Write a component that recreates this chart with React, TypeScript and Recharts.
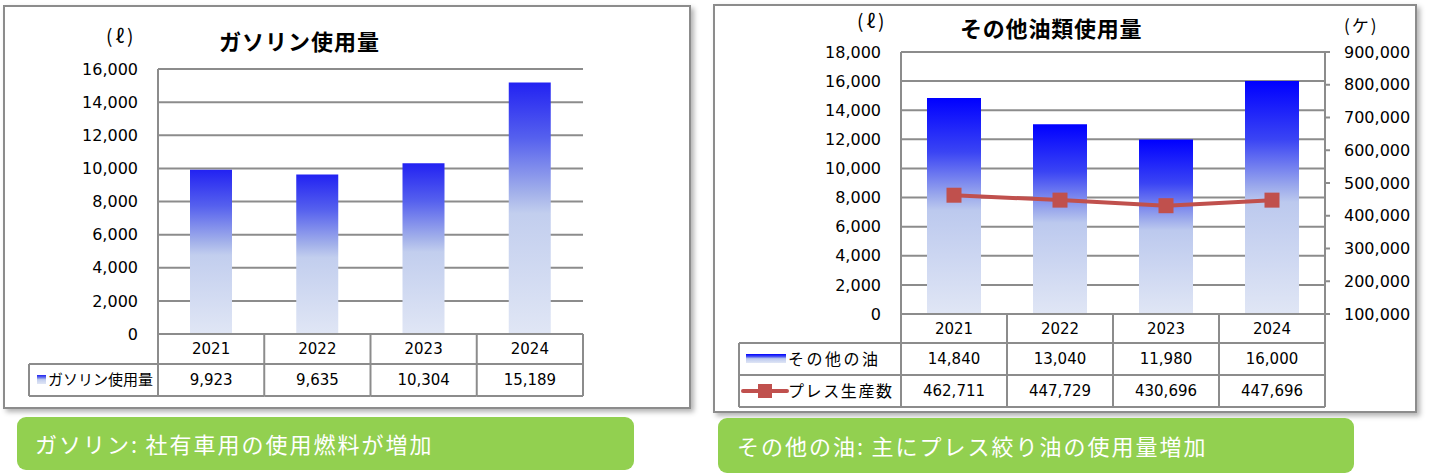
import { ComposedChart, Bar, Line, XAxis, YAxis, CartesianGrid } from "recharts";

const years = ["2021", "2022", "2023", "2024"];
const gasoline = [9923, 9635, 10304, 15189];
const otherOil = [14840, 13040, 11980, 16000];
const pressCount = [462711, 447729, 430696, 447696];
const gasTicks = [0, 2000, 4000, 6000, 8000, 10000, 12000, 14000, 16000];
const oilTicks = [0, 2000, 4000, 6000, 8000, 10000, 12000, 14000, 16000, 18000];
const pressTicks = [100000, 200000, 300000, 400000, 500000, 600000, 700000, 800000, 900000];

const LINE = "#8c8c8c";
const RED = "#c0504d";
const FONT = "'DejaVu Sans', 'Noto Sans CJK JP', sans-serif";
const JP = "'Noto Sans CJK JP', sans-serif";

const fmt = (v: number) => v.toLocaleString("en-US");

type Row = { label: string; values: number[]; icon: string; size: number; spacing: number };

// x axis tick draws one column of the data table under the plot
function makeTableTick(bw: number, heights: number[], rows: Row[], legendLeft: number, labelX: number) {
  return function TableTick(props: any) {
    const { x, y, payload, index } = props;
    const left = x - bw / 2;
    const right = x + bw / 2;
    const total = heights.reduce((a, b) => a + b, 0);
    let top = y;
    const cells: any[] = [];
    cells.push(
      <text key="h" x={x} y={y + heights[0] / 2} dy="0.36em" textAnchor="middle" fontSize={15} fontFamily={FONT} fill="#000">
        {payload.value}
      </text>
    );
    top = y + heights[0];
    rows.forEach((r, ri) => {
      const h = heights[ri + 1];
      cells.push(<line key={"l" + ri} x1={index === 0 ? legendLeft : left} x2={right} y1={top} y2={top} stroke={LINE} strokeWidth={2} />);
      cells.push(
        <text key={"t" + ri} x={x} y={top + h / 2} dy="0.36em" textAnchor="middle" fontSize={15} fontFamily={FONT} fill="#000">
          {fmt(r.values[index])}
        </text>
      );
      if (index === 0) {
        const cy = top + h / 2;
        if (r.icon === "gas") {
          cells.push(<rect key={"i" + ri} x={legendLeft + 8} y={cy - 5} width={9} height={9} fill="url(#gasGrad)" />);
        } else if (r.icon === "bar") {
          cells.push(<rect key={"i" + ri} x={legendLeft + 7} y={cy - 5} width={40} height={9} fill="url(#oilGrad)" />);
        } else {
          cells.push(<line key={"i" + ri} x1={legendLeft + 4} x2={legendLeft + 48} y1={cy} y2={cy} stroke={RED} strokeWidth={4} strokeLinecap="round" />);
          cells.push(<rect key={"m" + ri} x={legendLeft + 19} y={cy - 7} width={14} height={14} fill={RED} />);
        }
        cells.push(
          <text key={"n" + ri} x={labelX} y={cy} dy="0.36em" fontSize={r.size} letterSpacing={r.spacing} fontFamily={JP} fill="#000">
            {r.label}
          </text>
        );
      }
      top += h;
    });
    const bottom = y + total;
    cells.push(<line key="b" x1={index === 0 ? legendLeft : left} x2={right} y1={bottom} y2={bottom} stroke={LINE} strokeWidth={2} />);
    cells.push(<line key="v" x1={left} x2={left} y1={y} y2={bottom} stroke={LINE} strokeWidth={2} />);
    if (index === years.length - 1) {
      cells.push(<line key="vr" x1={right} x2={right} y1={y} y2={bottom} stroke={LINE} strokeWidth={2} />);
    }
    if (index === 0) {
      cells.push(<line key="vl" x1={legendLeft} x2={legendLeft} y1={y + heights[0]} y2={bottom} stroke={LINE} strokeWidth={2} />);
    }
    return <g>{cells}</g>;
  };
}

const SquareDot = (props: any) => {
  const { cx, cy } = props;
  return <rect x={cx - 7.5} y={cy - 7.5} width={15} height={15} fill={RED} />;
};

const gasData = years.map((y, i) => ({ year: y, gas: gasoline[i] }));
const oilData = years.map((y, i) => ({ year: y, oil: otherOil[i], press: pressCount[i] }));

const gasTick = makeTableTick(106.25, [30, 32], [{ label: "ガソリン使用量", values: gasoline, icon: "gas", size: 15, spacing: 0 }], 29, 48);
const oilTick = makeTableTick(106, [29, 32, 32], [
  { label: "その他の油", values: otherOil, icon: "bar", size: 16, spacing: 2.5 },
  { label: "プレス生産数", values: pressCount, icon: "line", size: 16, spacing: 1.6 },
], 29, 78);

const tickStyle = { fill: "#000", fontSize: 16, fontFamily: FONT };

const abs = (left: number, top: number, extra: any = {}) => ({ position: "absolute" as const, left, top, ...extra });

export default function App() {
  return (
    <div style={{ position: "absolute", left: 0, top: 0, width: 1429, height: 474, background: "#fff", overflow: "hidden" }}>
      <svg width={0} height={0} style={{ position: "absolute" }}>
        <defs>
          <linearGradient id="gasGrad" x1="0" y1="0" x2="0" y2="1">
            <stop offset="0" stopColor="#2222f2" />
            <stop offset="0.22" stopColor="#5560ee" />
            <stop offset="0.44" stopColor="#a3b1ea" />
            <stop offset="0.52" stopColor="#c2ceee" />
            <stop offset="1" stopColor="#e0e6f5" />
          </linearGradient>
          <linearGradient id="oilGrad" x1="0" y1="0" x2="0" y2="1">
            <stop offset="0" stopColor="#0000ff" />
            <stop offset="0.25" stopColor="#3a44f4" />
            <stop offset="0.45" stopColor="#9aa8ec" />
            <stop offset="0.52" stopColor="#bcc9ee" />
            <stop offset="1" stopColor="#e0e6f5" />
          </linearGradient>
        </defs>
      </svg>

      {/* left panel */}
      <div style={abs(3, 5, { width: 688, height: 404, boxSizing: "border-box", border: `2px solid ${LINE}`, boxShadow: "3px 3px 5px rgba(0,0,0,0.3)", background: "#fff" })} />
      <div style={abs(0, 0)}>
        <ComposedChart width={700} height={410} data={gasData} margin={{ top: 69, right: 117, bottom: 14, left: 0 }}>
          <CartesianGrid vertical={false} stroke={LINE} strokeWidth={2} />
          <XAxis dataKey="year" height={62} interval={0} tickSize={0} tickMargin={0} axisLine={{ stroke: LINE, strokeWidth: 2 }} tickLine={false} tick={gasTick} />
          <YAxis width={158} domain={[0, 16000]} ticks={gasTicks} tickFormatter={fmt} tickSize={0} tickMargin={20} tickLine={false} axisLine={{ stroke: LINE, strokeWidth: 2 }} tick={tickStyle} />
          <Bar dataKey="gas" fill="url(#gasGrad)" barSize={42} isAnimationActive={false} />
        </ComposedChart>
      </div>
      <div style={abs(219, 27, { fontFamily: JP, fontWeight: 700, fontSize: 22, lineHeight: "26px", letterSpacing: 1, color: "#000" })}>ガソリン使用量</div>
      <div style={abs(106, 23, { fontFamily: JP, fontSize: 19, lineHeight: "24px", letterSpacing: 3, color: "#000" })}>(ℓ)</div>
      <div style={abs(17, 417, { width: 617, height: 53, borderRadius: 9, background: "#92d050" })} />
      <div style={abs(35, 428, { fontFamily: JP, fontSize: 22, lineHeight: "30px", letterSpacing: 2, color: "#fff", whiteSpace: "pre" })}>{"ガソリン:\u2009社有車用の使用燃料が増加"}</div>

      {/* right panel */}
      <div style={abs(713, 4, { width: 704, height: 409, boxSizing: "border-box", border: `2px solid ${LINE}`, boxShadow: "3px 3px 5px rgba(0,0,0,0.3)", background: "#fff" })} />
      <div style={abs(710, 0)}>
        <ComposedChart width={719} height={414} data={oilData} margin={{ top: 52, right: 0, bottom: 7, left: 0 }}>
          <CartesianGrid vertical={false} yAxisId="left" stroke={LINE} strokeWidth={2} />
          <XAxis dataKey="year" height={93} interval={0} tickSize={0} tickMargin={0} axisLine={{ stroke: LINE, strokeWidth: 2 }} tickLine={false} tick={oilTick} />
          <YAxis yAxisId="left" width={191} domain={[0, 18000]} ticks={oilTicks} tickFormatter={fmt} tickSize={0} tickMargin={20} tickLine={false} axisLine={{ stroke: LINE, strokeWidth: 2 }} tick={tickStyle} />
          <YAxis yAxisId="right" orientation="right" width={104} domain={[100000, 900000]} ticks={pressTicks} tickFormatter={fmt} tickSize={5} tickMargin={14} tickLine={{ stroke: LINE, strokeWidth: 2 }} axisLine={{ stroke: LINE, strokeWidth: 2 }} tick={tickStyle} />
          <Bar yAxisId="left" dataKey="oil" fill="url(#oilGrad)" barSize={54} isAnimationActive={false} />
          <Line yAxisId="right" dataKey="press" stroke={RED} strokeWidth={4} dot={<SquareDot />} isAnimationActive={false} />
        </ComposedChart>
      </div>
      <div style={abs(960, 14, { fontFamily: JP, fontWeight: 700, fontSize: 22, lineHeight: "26px", letterSpacing: 0.8, color: "#000" })}>その他油類使用量</div>
      <div style={abs(857, 8, { fontFamily: JP, fontSize: 19, lineHeight: "24px", letterSpacing: 3, color: "#000" })}>(ℓ)</div>
      <div style={abs(1344, 13, { fontFamily: JP, fontSize: 17, lineHeight: "24px", letterSpacing: 2, color: "#000" })}>(ケ)</div>
      <div style={abs(718, 418, { width: 636, height: 55, borderRadius: 9, background: "#92d050" })} />
      <div style={abs(737, 430, { fontFamily: JP, fontSize: 22, lineHeight: "30px", letterSpacing: 2, color: "#fff", whiteSpace: "pre" })}>{"その他の油:\u2009主にプレス絞り油の使用量増加"}</div>
    </div>
  );
}
